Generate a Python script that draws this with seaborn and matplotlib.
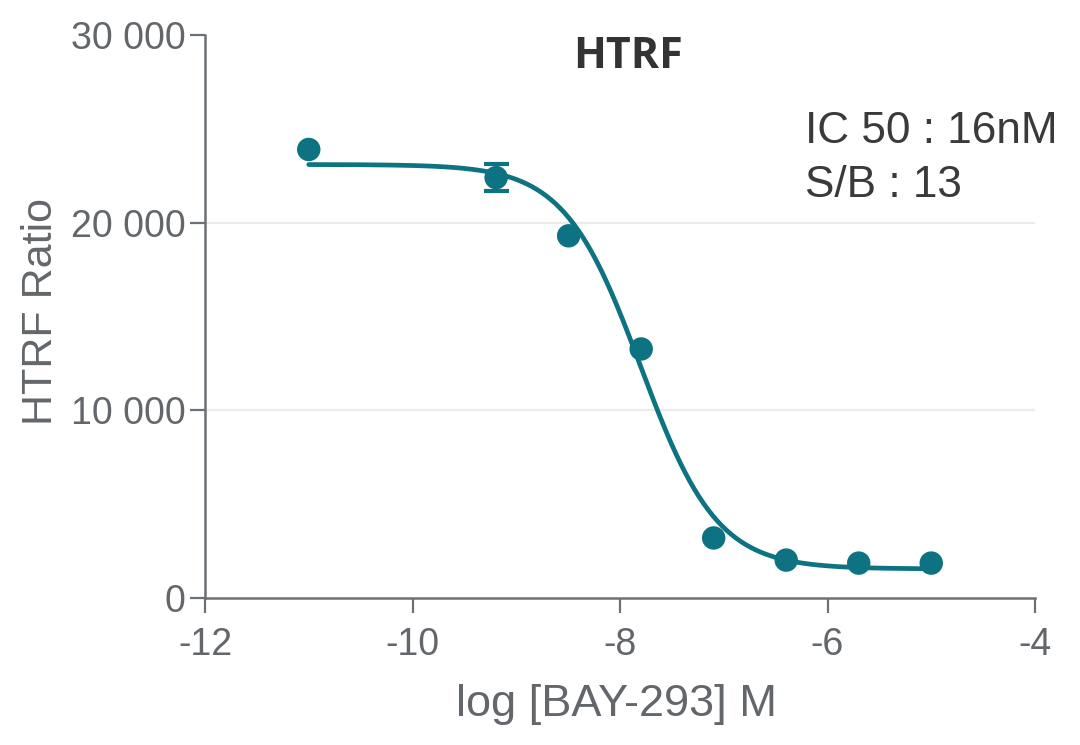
import numpy as np
import pandas as pd
import matplotlib
matplotlib.use("Agg")
import matplotlib.pyplot as plt
from matplotlib import font_manager
from matplotlib.ticker import FuncFormatter
import seaborn as sns

# ---- data ----
log_conc = [-11.0, -9.194, -8.495, -7.796, -7.097, -6.398, -5.699, -5.0]
htrf_ratio = [23900, 22400, 19300, 13270, 3200, 2020, 1860, 1860]
htrf_err = [0, 700, 0, 0, 0, 0, 0, 0]

# 4-parameter logistic fit parameters
fit_top = 23100
fit_bottom = 1550
fit_log_ic50 = -7.80
fit_hill = 1.18

x_ticks = [-12, -10, -8, -6, -4]
y_ticks = [0, 10000, 20000, 30000]
title_text = "HTRF"
x_label = "log [BAY-293] M"
y_label = "HTRF Ratio"
annot_lines = ["IC 50 : 16nM", "S/B : 13"]

# ---- style ----
sns.set_theme(style="ticks")
names = {f.name for f in font_manager.fontManager.ttflist}
narrow = "Liberation Sans Narrow" if "Liberation Sans Narrow" in names else "Liberation Sans"
plt.rcParams["font.family"] = ["Liberation Sans", "DejaVu Sans"]
plt.rcParams["axes.unicode_minus"] = False

teal = "#0d7282"
axis_grey = "#6d7175"
label_grey = "#63676b"
dark = "#333333"

fig = plt.figure(figsize=(10.8, 7.45), dpi=100)
ax = fig.add_axes([205 / 1080, 1 - 598 / 745, 830 / 1080, 563 / 745])

df = pd.DataFrame({"x": log_conc, "y": htrf_ratio, "err": htrf_err})

# fitted curve
cx = np.linspace(min(log_conc), max(log_conc), 400)
cy = fit_bottom + (fit_top - fit_bottom) / (1 + 10 ** ((cx - fit_log_ic50) * fit_hill))
sns.lineplot(x=cx, y=cy, ax=ax, color=teal, linewidth=3.4, zorder=3)

# error bars
e = df[df["err"] > 0]
ax.errorbar(e["x"], e["y"], yerr=e["err"], fmt="none", ecolor=teal,
            elinewidth=3.5, capsize=9, capthick=3, zorder=4)

# points
sns.scatterplot(data=df, x="x", y="y", ax=ax, color=teal, s=285,
                edgecolor="none", linewidth=0, zorder=5, clip_on=False)

ax.set_xlim(x_ticks[0], x_ticks[-1])
ax.set_ylim(y_ticks[0], y_ticks[-1])
ax.set_xticks(x_ticks)
ax.set_yticks(y_ticks)
ax.yaxis.set_major_formatter(FuncFormatter(lambda v, p: f"{int(v):,}".replace(",", " ")))

ax.grid(axis="y", color="#ebebeb", linewidth=1.6, zorder=0)
gl = ax.yaxis.get_gridlines()
gl[0].set_visible(False)
gl[-1].set_visible(False)
ax.set_axisbelow(True)

for s in ["top", "right"]:
    ax.spines[s].set_visible(False)
for s in ["left", "bottom"]:
    ax.spines[s].set_color(axis_grey)
    ax.spines[s].set_linewidth(1.8)

ax.tick_params(axis="both", direction="out", length=11, width=1.6, color=axis_grey,
               labelcolor=label_grey, labelsize=27)
ax.tick_params(axis="x", pad=10)
ax.tick_params(axis="y", pad=3)
for lab in ax.get_xticklabels() + ax.get_yticklabels():
    lab.set_family([narrow, "DejaVu Sans"])

ax.set_xlabel(x_label, fontsize=32.5, color=label_grey)
ax.set_ylabel(y_label, fontsize=31, color=label_grey)
ax.xaxis.set_label_coords(0.496, -0.152)
ax.yaxis.set_label_coords(-0.174, 0.508)

fig.text(628 / 1080, 1 - 68 / 745, title_text, ha="center", va="baseline",
         fontsize=31, fontweight="bold", color=dark, family=["Open Sans", "DejaVu Sans"])
fig.text(805 / 1080, 1 - 143 / 745, annot_lines[0], ha="left", va="baseline",
         fontsize=31.8, color="#3a3a3a")
fig.text(805 / 1080, 1 - 197 / 745, annot_lines[1], ha="left", va="baseline",
         fontsize=31.8, color="#3a3a3a")

fig.savefig("out.png", dpi=100, facecolor="white")
